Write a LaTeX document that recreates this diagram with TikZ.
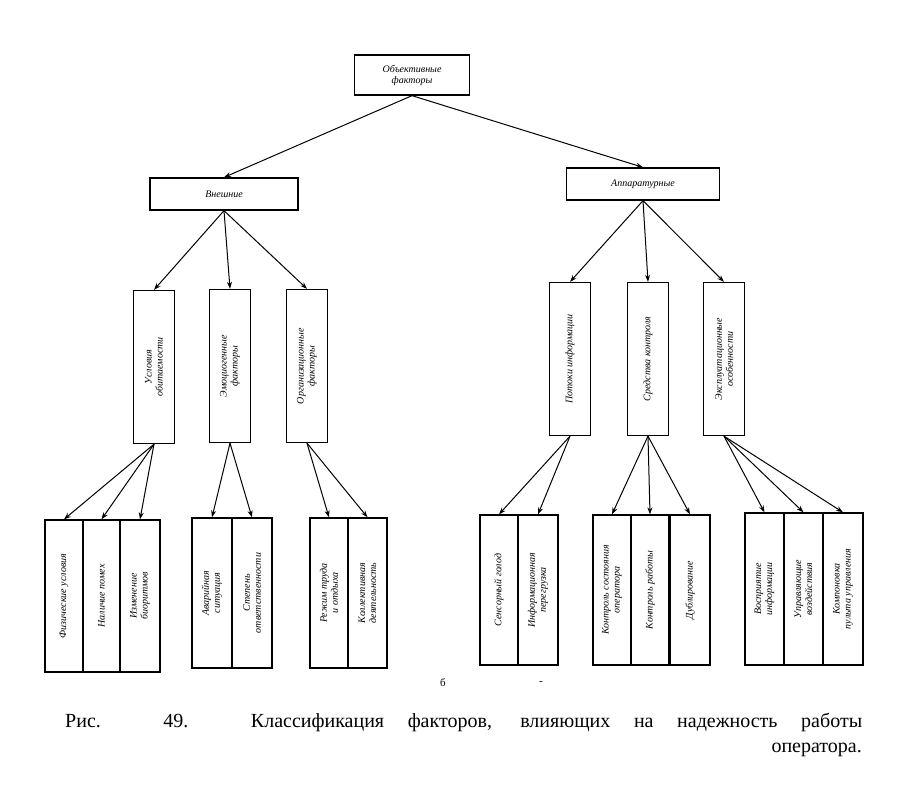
\documentclass[tikz,border=0pt]{standalone}
\usepackage{fontspec}
\setmainfont{Liberation Serif}
\usetikzlibrary{arrows.meta}
\begin{document}
\begin{tikzpicture}[x=1pt,y=-1pt,
  bx/.style={draw,line width=1.3pt,inner sep=0pt},
  tx/.style={rotate=90,align=center,font=\fontsize{10}{11}\selectfont\itshape},
  hx/.style={align=center,font=\fontsize{10}{11}\selectfont\itshape},
  ar/.style={-{Stealth[length=7pt,width=5pt]},line width=1pt}]
\useasboundingbox (0,0) rectangle (906,798);
% top
\node[bx,minimum width=115,minimum height=40,hx] (top) at (412,75) {Объективные\\факторы};
\node[bx,minimum width=148,minimum height=32,hx] (ext) at (224,194) {Внешние};
\node[bx,minimum width=153,minimum height=32,hx] (app) at (643,184) {Аппаратурные};
\draw[ar] (top.south) -- (ext.north);
\draw[ar] (top.south) -- (app.north);
% level 2
\foreach \n/\x/\y/\t in {u/154/367/{Условия\\обитаемости}, e/230/366/{Эмоциогенные\\факторы}, o/307/366/{Организационные\\факторы},
  p/570/359/{Потоки информации}, s/648/359/{Средства контроля}, x/724/359/{Эксплуатационные\\особенности}}{
  \node[bx,minimum width=41,minimum height=153] (\n) at (\x,\y) {};
  \node[tx] at (\n) {\t};
}
\foreach \n in {u,e,o}{\draw[ar] (ext.south) -- (\n.north);}
\foreach \n in {p,s,x}{\draw[ar] (app.south) -- (\n.north);}
% leaves
\newcommand\leaf[6]{%
  \node[bx,minimum width=#4,minimum height=#5] (#1) at (#2,#3) {};
  \node[tx] at (#1) {#6};}
\leaf{u1}{64}{596}{38}{152}{Физические условия}
\leaf{u2}{101.5}{596}{37}{152}{Наличие помех}
\leaf{u3}{140}{596}{40}{152}{Изменение\\биоритмов}
\leaf{e1}{212}{593}{40}{150}{Аварийная\\ситуация}
\leaf{e2}{252}{593}{40}{150}{Степень\\ответственности}
\leaf{o1}{329}{593}{38}{150}{Режим труда\\и отдыха}
\leaf{o2}{367.5}{593}{39}{150}{Коллективная\\деятельность}
\leaf{p1}{499}{590}{38}{150}{Сенсорный голод}
\leaf{p2}{538}{590}{40}{150}{Информационная\\перегрузка}
\leaf{s1}{612}{590}{38}{150}{Контроль состояния\\оператора}
\leaf{s2}{650}{590}{38}{150}{Контроль работы}
\leaf{s3}{690}{590}{40}{150}{Дублирование}
\leaf{x1}{764.5}{589}{39}{152}{Восприятие\\информации}
\leaf{x2}{803.5}{589}{39}{152}{Управляющие\\воздействия}
\leaf{x3}{843}{589}{40}{152}{Компоновка\\пульта управления}
\foreach \p/\c in {u/u1,u/u2,u/u3,e/e1,e/e2,o/o1,o/o2,p/p1,p/p2,s/s1,s/s2,s/s3,x/x1,x/x2,x/x3}{
  \draw[ar] (\p.south) -- (\c.north);}
\node[font=\fontsize{11}{11}\selectfont] (b) at (443,683) {б};
\node[font=\fontsize{11}{11}\selectfont] (d) at (541,683) {-};
\node[font=\fontsize{20}{22}\selectfont,anchor=west,inner sep=0pt] (cap1) at (65,722)
 {\makebox[797pt][s]{Рис. 49. Классификация факторов, влияющих на надежность работы}};
\node[font=\fontsize{20}{22}\selectfont,anchor=east,inner sep=0pt] (cap2) at (862,750) {оператора.};
\end{tikzpicture}
\end{document}
